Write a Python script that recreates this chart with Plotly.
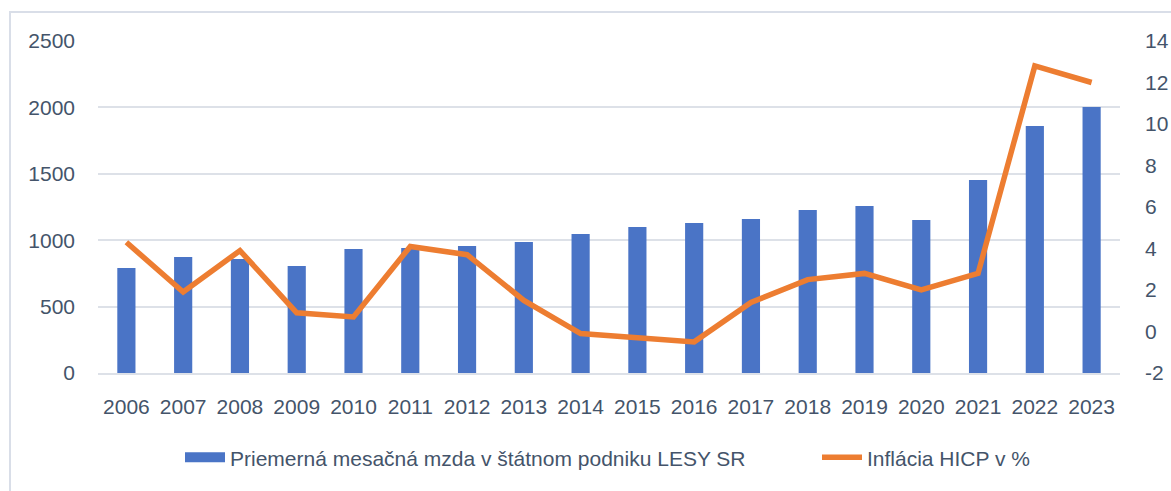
import plotly.graph_objects as go

years = [str(y) for y in range(2006, 2024)]
wages = [790, 873, 858, 806, 934, 941, 956, 986, 1047, 1099, 1130, 1160, 1227, 1257, 1152, 1453, 1860, 2003]
inflation = [4.3, 1.9, 3.9, 0.9, 0.7, 4.1, 3.7, 1.5, -0.1, -0.3, -0.5, 1.4, 2.5, 2.8, 2.0, 2.8, 12.8, 12.0]
left_ticks = [0, 500, 1000, 1500, 2000, 2500]
right_ticks = [-2, 0, 2, 4, 6, 8, 10, 12, 14]
right_ticktext = ["-2", "0", "2", "4", "6", "8", "10", "12", "14"]

name_bar = "Priemerná mesačná mzda v štátnom podniku LESY SR"
name_line = "Inflácia HICP v %"

FONT = "Liberation Sans"
TXT = "#44546A"
GRID = "#DDE1E8"
BLUE = "#4A74C6"

fig = go.Figure()
fig.add_trace(go.Bar(
    x=years, y=wages, name=name_bar, width=0.32, showlegend=False, legendgroup="bar",
    marker=dict(color=BLUE, line=dict(width=0)),
))
# legend proxy for the bar series (wide rectangle swatch)
fig.add_trace(go.Scatter(
    x=[None], y=[None], name=name_bar, mode="lines", legendgroup="bar", legend="legend",
    line=dict(color=BLUE, width=11),
))
fig.add_trace(go.Scatter(
    x=years, y=inflation, name=name_line, yaxis="y2", mode="lines", legend="legend2",
    line=dict(color="#ED7D31", width=5.5),
))

leg_common = dict(orientation="h", xanchor="left", y=-0.255, yanchor="middle",
                  font=dict(size=21, color=TXT), itemwidth=40, bgcolor="rgba(0,0,0,0)")

fig.update_layout(
    width=1171, height=491,
    margin=dict(l=98, r=51, t=41, b=118, autoexpand=False),
    paper_bgcolor="white", plot_bgcolor="white",
    font=dict(family=FONT, size=21, color=TXT),
    showlegend=True,
    legend=dict(x=(180 - 98) / 1022, **leg_common),
    legend2=dict(x=(817 - 98) / 1022, **leg_common),
    xaxis=dict(type="category", showgrid=False, showline=True, linecolor=GRID, linewidth=2,
               ticks="", ticklabelstandoff=14, tickfont=dict(size=21), automargin=False),
    yaxis=dict(range=[0, 2500], tickvals=left_ticks,
               showgrid=True, gridcolor=GRID, gridwidth=2, zeroline=False, showline=False,
               ticks="", ticklabelstandoff=22, tickfont=dict(size=21), automargin=False),
    yaxis2=dict(range=[-2, 14], tickvals=right_ticks, ticktext=right_ticktext, overlaying="y", side="right",
                showgrid=False, zeroline=False, showline=False, ticks="", ticklabelstandoff=24,
                tickfont=dict(size=21), automargin=False),
    shapes=[dict(type="rect", xref="paper", yref="paper", x0=-0.0861, x1=1.2, y0=-0.6, y1=1.0873,
                 line=dict(color="#D9DEE8", width=2), fillcolor="rgba(0,0,0,0)", layer="below")],
)

fig.write_html("out.html", config={"displayModeBar": False},
               post_script="document.body.style.margin='0';document.body.style.overflow='hidden';")
